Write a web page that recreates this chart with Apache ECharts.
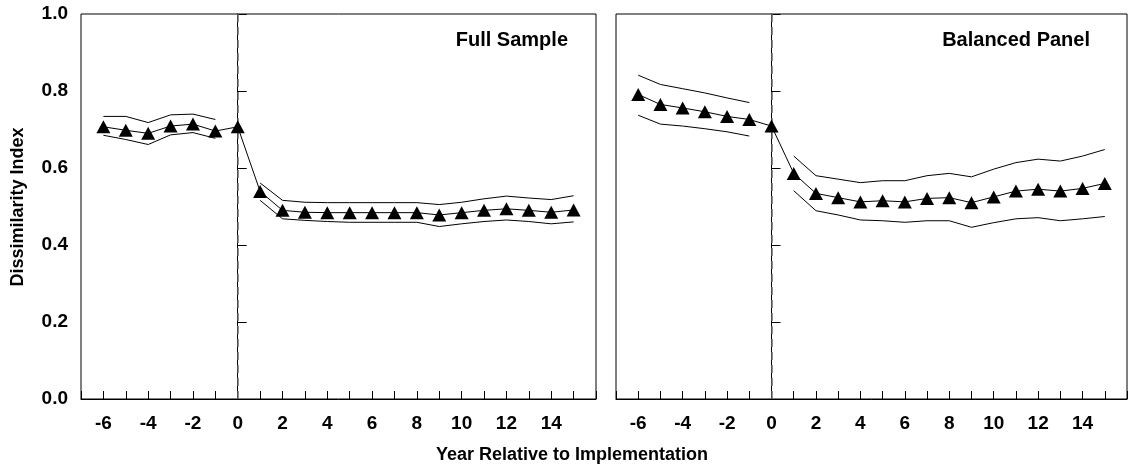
<!DOCTYPE html>
<html>
<head>
<meta charset="utf-8">
<title>Dissimilarity Index</title>
<script src="https://cdn.jsdelivr.net/npm/echarts@6/dist/echarts.min.js"></script>
<style>
  html, body { margin: 0; padding: 0; background: #fff; }
  #chart { width: 1130px; height: 468px; }
</style>
</head>
<body>
<div id="chart"></div>
<script>
// years relative to implementation
const years = [-6, -5, -4, -3, -2, -1, 0, 1, 2, 3, 4, 5, 6, 7, 8, 9, 10, 11, 12, 13, 14, 15];
const xTickLabels = [-6, -4, -2, 0, 2, 4, 6, 8, 10, 12, 14];
const yTickLabels = ['0.0', '0.2', '0.4', '0.6', '0.8', '1.0'];

// Full Sample (null = gap at year 0 for the bands)
const fullMean  = [0.707, 0.698, 0.690, 0.709, 0.714, 0.696, 0.707, 0.539, 0.490, 0.485, 0.484, 0.484, 0.484, 0.484, 0.484, 0.478, 0.484, 0.490, 0.494, 0.490, 0.485, 0.491];
const fullUpper = [0.734, 0.734, 0.718, 0.738, 0.740, 0.726, null, 0.561, 0.516, 0.511, 0.510, 0.510, 0.510, 0.510, 0.510, 0.505, 0.511, 0.520, 0.527, 0.522, 0.518, 0.528];
const fullLower = [0.685, 0.674, 0.661, 0.686, 0.692, 0.677, null, 0.516, 0.468, 0.464, 0.461, 0.459, 0.459, 0.459, 0.459, 0.448, 0.455, 0.461, 0.465, 0.461, 0.455, 0.460];

// Balanced Panel
const balMean  = [0.791, 0.765, 0.756, 0.746, 0.734, 0.726, 0.709, 0.586, 0.534, 0.523, 0.512, 0.515, 0.512, 0.521, 0.523, 0.510, 0.525, 0.540, 0.545, 0.540, 0.547, 0.560];
const balUpper = [0.841, 0.817, 0.806, 0.795, 0.782, 0.770, null, 0.631, 0.580, 0.571, 0.562, 0.567, 0.567, 0.580, 0.586, 0.577, 0.597, 0.614, 0.623, 0.618, 0.631, 0.648];
const balLower = [0.737, 0.714, 0.709, 0.702, 0.694, 0.683, null, 0.541, 0.489, 0.478, 0.465, 0.463, 0.459, 0.463, 0.463, 0.446, 0.458, 0.468, 0.471, 0.463, 0.468, 0.474];

const FONT = '"Liberation Sans", Arial, sans-serif';

const toPairs = (arr) => years.map((x, i) => [x, arr[i] == null ? '-' : arr[i]]);

const makeXAxis = (idx) => ({
  type: 'value',
  gridIndex: idx,
  min: -7,
  max: 16,
  interval: 1,
  axisLine: { show: true, onZero: false, lineStyle: { color: '#000', width: 1 } },
  axisTick: { show: true, inside: true, length: 8, lineStyle: { color: '#000' } },
  splitLine: { show: false },
  axisLabel: {
    margin: 15,
    color: '#000',
    fontFamily: FONT,
    fontWeight: 'bold',
    fontSize: 19,
    showMinLabel: true,
    showMaxLabel: true,
    formatter: (v) => (xTickLabels.indexOf(v) >= 0 ? String(v) : '')
  }
});

const makeYAxis = (idx, showLabels) => ({
  type: 'value',
  gridIndex: idx,
  min: 0,
  max: 1,
  interval: 0.2,
  axisLine: { show: true, lineStyle: { color: '#000', width: 1 } },
  axisTick: { show: true, inside: true, length: 9, lineStyle: { color: '#000' } },
  splitLine: { show: false },
  axisLabel: {
    show: showLabels,
    margin: 13,
    color: '#000',
    fontFamily: FONT,
    fontWeight: 'bold',
    fontSize: 19,
    formatter: (v) => yTickLabels[Math.round(v / 0.2)]
  }
});

const meanSeries = (idx, data) => ({
  type: 'line',
  xAxisIndex: idx,
  yAxisIndex: idx,
  data: toPairs(data),
  symbol: 'triangle',
  symbolSize: [14, 13],
  itemStyle: { color: '#000' },
  lineStyle: { color: '#000', width: 1 },
  z: 5,
  markLine: {
    silent: true,
    symbol: 'none',
    label: { show: false },
    lineStyle: { type: [8, 5], color: '#6a6a6a', width: 1.5 },
    data: [{ xAxis: 0 }]
  }
});

const bandSeries = (idx, data) => ({
  type: 'line',
  xAxisIndex: idx,
  yAxisIndex: idx,
  data: toPairs(data),
  showSymbol: false,
  symbol: 'none',
  lineStyle: { color: '#000', width: 1 },
  z: 3
});

const chart = echarts.init(document.getElementById('chart'));

const option = {
  animation: false,
  backgroundColor: '#fff',
  textStyle: { fontFamily: FONT },
  title: [
    {
      text: 'Full Sample',
      right: 562,
      top: 30,
      padding: 0,
      textStyle: { fontFamily: FONT, fontWeight: 'bold', fontSize: 20, color: '#000' }
    },
    {
      text: 'Balanced Panel',
      right: 40,
      top: 30,
      padding: 0,
      textStyle: { fontFamily: FONT, fontWeight: 'bold', fontSize: 20, color: '#000' }
    }
  ],
  grid: [
    { left: 81, top: 14, width: 515, height: 385, show: true, borderColor: '#000', borderWidth: 1, containLabel: false },
    { left: 616, top: 14, width: 513, height: 385, show: true, borderColor: '#000', borderWidth: 1, containLabel: false }
  ],
  xAxis: [makeXAxis(0), makeXAxis(1)],
  yAxis: [makeYAxis(0, true), makeYAxis(1, false)],
  series: [
    bandSeries(0, fullUpper),
    bandSeries(0, fullLower),
    meanSeries(0, fullMean),
    bandSeries(1, balUpper),
    bandSeries(1, balLower),
    meanSeries(1, balMean)
  ],
  graphic: [
    {
      // y axis name, rotated and centred on the plot height
      type: 'text',
      x: 18,
      y: 207,
      rotation: Math.PI / 2,
      style: {
        text: 'Dissimilarity Index',
        fontFamily: FONT,
        fontWeight: 'bold',
        fontSize: 18,
        fill: '#000',
        align: 'center',
        verticalAlign: 'middle'
      }
    },
    {
      type: 'text',
      x: 572,
      y: 455,
      style: {
        text: 'Year Relative to Implementation',
        fontFamily: FONT,
        fontWeight: 'bold',
        fontSize: 18,
        fill: '#000',
        align: 'center',
        verticalAlign: 'middle'
      }
    }
  ]
};

chart.setOption(option);
</script>
</body>
</html>
